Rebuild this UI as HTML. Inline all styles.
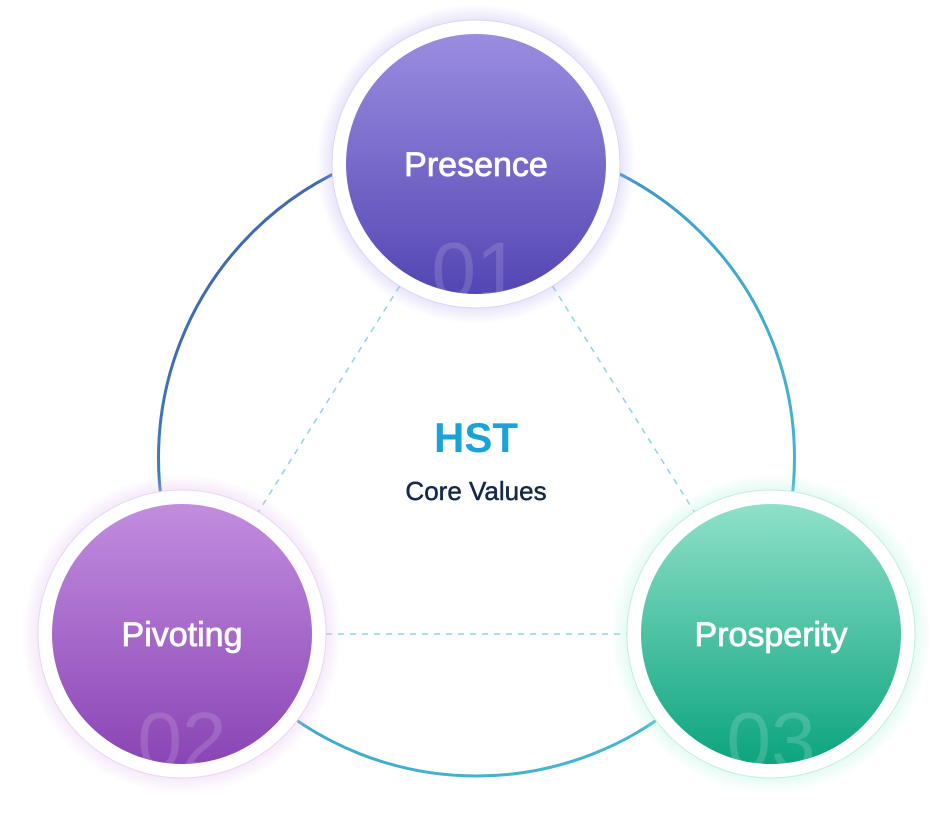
<!DOCTYPE html>
<html><head><meta charset="utf-8"><style>
html,body{margin:0;padding:0;background:#fff;}
body{width:951px;height:818px;overflow:hidden;}
</style></head><body>
<svg width="951" height="818" viewBox="0 0 951 818" xmlns="http://www.w3.org/2000/svg" font-family="Liberation Sans, sans-serif">
<defs>
<linearGradient id="ring" x1="0" y1="0" x2="1" y2="1">
<stop offset="0" stop-color="#3f4fa3"/><stop offset="0.5" stop-color="#3fa6cf"/><stop offset="1" stop-color="#45bfcf"/>
</linearGradient>
<linearGradient id="g1" x1="0" y1="0" x2="0" y2="1"><stop offset="0" stop-color="#9a8de0"/><stop offset="1" stop-color="#5446b3"/></linearGradient>
<linearGradient id="g2" x1="0" y1="0" x2="0" y2="1"><stop offset="0" stop-color="#c28ddf"/><stop offset="1" stop-color="#8a45b5"/></linearGradient>
<linearGradient id="g3" x1="0" y1="0" x2="0" y2="1"><stop offset="0" stop-color="#8fe0c9"/><stop offset="1" stop-color="#0ca47e"/></linearGradient>
<radialGradient id="h1"><stop offset="0.85" stop-color="#b8a8f0" stop-opacity="0.45"/><stop offset="1" stop-color="#b8a8f0" stop-opacity="0"/></radialGradient>
<radialGradient id="h2"><stop offset="0.85" stop-color="#e0b8f0" stop-opacity="0.45"/><stop offset="1" stop-color="#e0b8f0" stop-opacity="0"/></radialGradient>
<radialGradient id="h3"><stop offset="0.85" stop-color="#a8f0dc" stop-opacity="0.45"/><stop offset="1" stop-color="#a8f0dc" stop-opacity="0"/></radialGradient>
<clipPath id="c1"><circle cx="476" cy="164" r="130"/></clipPath>
<clipPath id="c2"><circle cx="182" cy="634" r="130"/></clipPath>
<clipPath id="c3"><circle cx="771" cy="634" r="130"/></clipPath>
</defs>
<circle cx="476.5" cy="458" r="318" fill="none" stroke="url(#ring)" stroke-width="3"/>
<g stroke="#8fd3e6" stroke-width="1.5" stroke-dasharray="6,6" fill="none">
<line x1="476" y1="164" x2="182" y2="634"/>
<line x1="476" y1="164" x2="771" y2="634"/>
<line x1="182" y1="634" x2="771" y2="634"/>
</g>
<text x="476" y="452" text-anchor="middle" font-size="42" font-weight="bold" fill="#1aa3d6">HST</text>
<text x="476" y="500" text-anchor="middle" font-size="26" fill="#14284a" stroke="#14284a" stroke-width="0.5">Core Values</text>

<circle cx="476" cy="164" r="160" fill="url(#h1)"/>
<circle cx="476" cy="164" r="144" fill="#fff" stroke="#dcd6f2"/>
<circle cx="476" cy="164" r="130" fill="url(#g1)"/>
<text x="476" y="298" text-anchor="middle" font-size="80" fill="#fff" fill-opacity="0.14" clip-path="url(#c1)">01</text>
<text x="476" y="176" text-anchor="middle" font-size="34" fill="#fff" stroke="#fff" stroke-width="0.8">Presence</text>

<circle cx="182" cy="634" r="160" fill="url(#h2)"/>
<circle cx="182" cy="634" r="144" fill="#fff" stroke="#ead6f2"/>
<circle cx="182" cy="634" r="130" fill="url(#g2)"/>
<text x="182" y="768" text-anchor="middle" font-size="80" fill="#fff" fill-opacity="0.14" clip-path="url(#c2)">02</text>
<text x="182" y="646" text-anchor="middle" font-size="34" fill="#fff" stroke="#fff" stroke-width="0.8">Pivoting</text>

<circle cx="771" cy="634" r="160" fill="url(#h3)"/>
<circle cx="771" cy="634" r="144" fill="#fff" stroke="#c8ece0"/>
<circle cx="771" cy="634" r="130" fill="url(#g3)"/>
<text x="771" y="768" text-anchor="middle" font-size="80" fill="#fff" fill-opacity="0.16" clip-path="url(#c3)">03</text>
<text x="771" y="646" text-anchor="middle" font-size="34" fill="#fff" stroke="#fff" stroke-width="0.8">Prosperity</text>
</svg>
</body></html>
